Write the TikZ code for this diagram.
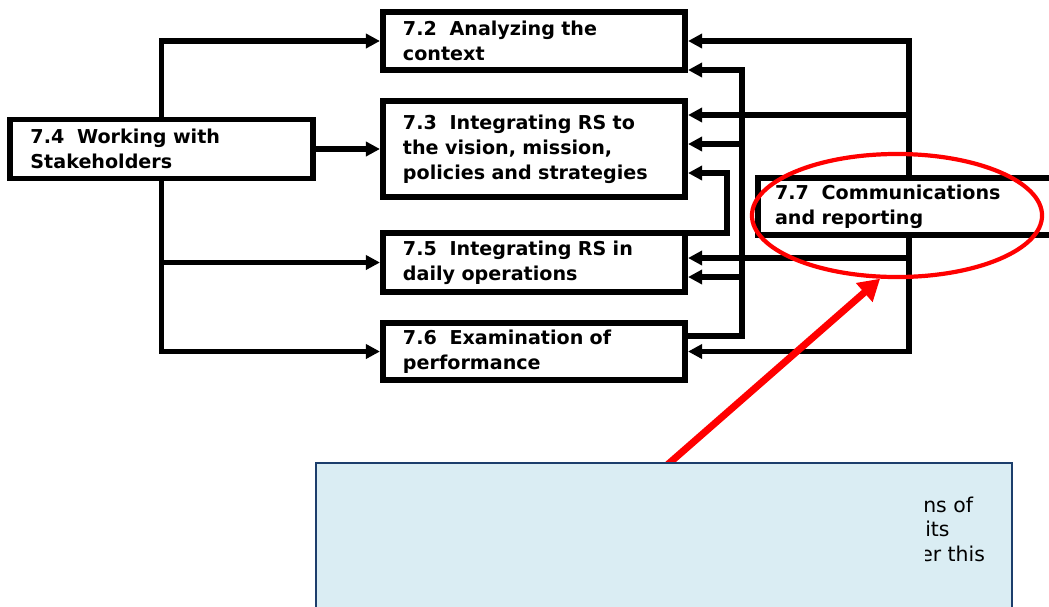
\documentclass[tikz,border=0pt]{standalone}
\usepackage{fontspec}
\setmainfont{DejaVu Sans}
\usepackage{tikz}
\usetikzlibrary{positioning, shapes.geometric, arrows.meta}
\definecolor{bleunote}{RGB}{218, 237, 243}
\definecolor{bleutrait}{RGB}{28, 62, 108}
\definecolor{rougevif}{RGB}{255, 0, 0}

\begin{document}
\begin{tikzpicture}[x=0.025cm, y=-0.025cm,
    box/.style={draw, line width=4pt, fill=white, inner xsep=0.505cm, inner ysep=0pt,
      minimum width=7.56cm, text width=6.55cm, align=left,
      font=\fontsize{13.6}{17.9}\selectfont\bfseries},
    link/.style={line width=3.6pt, -{Triangle[length=10pt, width=10pt]}},
    pointer/.style={rougevif, line width=5pt, -{Triangle[length=15pt, width=17pt]}},
    notetext/.style={inner sep=0pt, anchor=base west, font=\fontsize{14.5}{17}\selectfont}]
    \clip (0,0) rectangle (1049,606);
    % cases
    \node (ctx) [box, minimum height=1.46cm] at (534,41) {7.2~~Analyzing the\\context};
    \node (vision) [box, minimum height=2.41cm] at (534,149) {7.3~~Integrating RS to\\the vision, mission,\\policies and strategies};
    \node (daily) [box, minimum height=1.47cm] at (534,262.5) {7.5~~Integrating RS in\\daily operations};
    \node (perf) [box, minimum height=1.43cm] at (534,351.5) {7.6~~Examination of\\performance};
    \node (ws) [box, minimum height=1.47cm, minimum width=7.54cm] at (161.5,149) {7.4~~Working with\\Stakeholders};
    \node (comm) [box, minimum height=1.43cm, minimum width=12cm, text width=11.14cm, inner xsep=0.43cm, anchor=west] at (755,206.5) {7.7~~Communications\\and reporting};

    \coordinate (outer) at (909,0);
    \coordinate (o3) at (909,115);
    \coordinate (o5) at (909,258);
    \coordinate (i2) at (742,70);
    \coordinate (i3) at (742,144);
    \coordinate (i5) at (742,277);
    \coordinate (i6) at (742,336);
    \coordinate (l3) at (727,173);
    \coordinate (l5) at (727,233);

    \draw[link] (ws.north) |- (ctx.west);
    \draw[link] (ws.east) -- (vision.west);
    \draw[link] (ws.south) |- (daily.west);
    \draw[link] (ws.south) |- (perf.west);

    \draw[link] (comm.north -| outer) |- (ctx.east);
    \draw[link] (o3) -- (o3 -| vision.east);
    \draw[link] (o5) -- (o5 -| daily.east);
    \draw[link] (comm.south -| outer) |- (perf.east);

    \draw[link] (i6 -| perf.east) -- (i6) -- (i2) -- (i2 -| ctx.east);
    \draw[link] (i3) -- (i3 -| vision.east);
    \draw[link] (i5) -- (i5 -| daily.east);
    \draw[link] (l5 -| daily.east) -- (l5) -- (l3) -- (l3 -| vision.east);

    % surlignage et bulle
    \node (hl) [ellipse, draw=rougevif, line width=3pt, inner sep=0pt, minimum width=7.25cm, minimum height=3.075cm] at (897,215.5) {};
    \coordinate (tail) at (666,466);
    \draw[pointer] (tail) -- (hl.255);
    \node (note) [draw=bleutrait, fill=bleunote, line width=1.6pt, anchor=north west, minimum width=17.4cm, minimum height=3.8cm] at (315,462) {};
    \begin{scope}
      \clip (925,470) rectangle (1010,600);
      \node (l1) [notetext] at (923,512) {ns of};
      \node (l2) [notetext] at (925,536) {its};
      \node (l4) [notetext] at (920,561) {er this};
    \end{scope}
\end{tikzpicture}
\end{document}
